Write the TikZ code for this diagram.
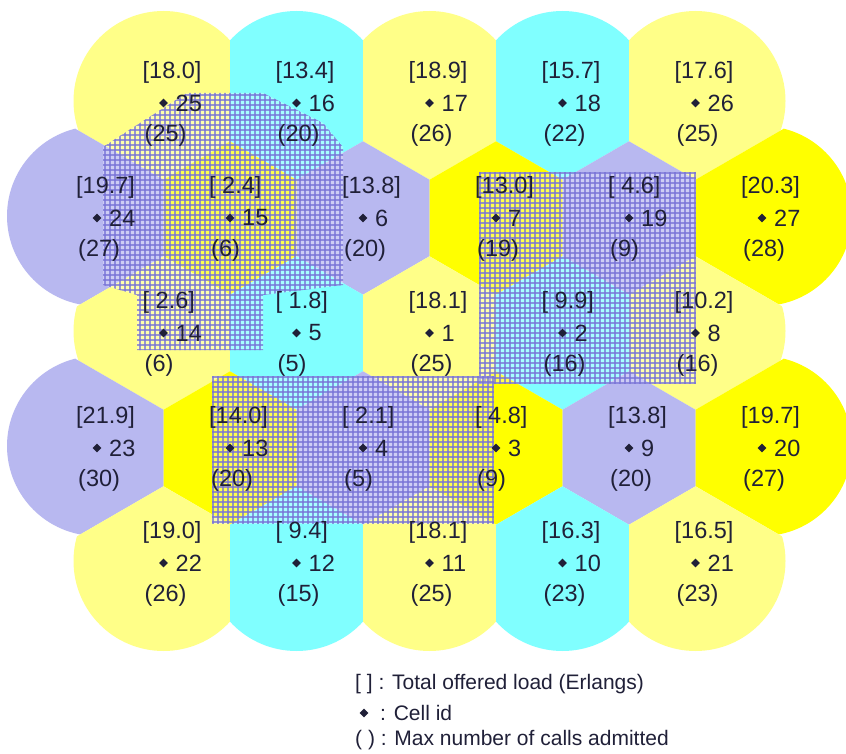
\documentclass[tikz,border=0pt]{standalone}
\usepackage{fontspec}
\setmainfont{Liberation Sans}
\usetikzlibrary{calc,shapes.geometric}
\definecolor{ly}{HTML}{FFFF88}
\definecolor{cy}{HTML}{80FFFF}
\definecolor{lv}{HTML}{B8B8F0}
\definecolor{by}{HTML}{FFFF00}
\definecolor{ink}{HTML}{202038}
\definecolor{hatchc}{RGB}{120,115,215}
\def\celllist{25/163.5/103/ly/18.0/25, 16/296.5/103/cy/13.4/20, 17/429.5/103/ly/18.9/26, 18/562.5/103/cy/15.7/22, 26/695.5/103/ly/17.6/25,
24/97/218/lv/19.7/27, 15/230/218/by/~2.4/6, 6/363/218/lv/13.8/20, 7/496/218/by/13.0/19, 19/629/218/lv/~4.6/9, 27/762/218/by/20.3/28,
14/163.5/333/ly/~2.6/6, 5/296.5/333/cy/~1.8/5, 1/429.5/333/ly/18.1/25, 2/562.5/333/cy/~9.9/16, 8/695.5/333/ly/10.2/16,
23/97/448/lv/21.9/30, 13/230/448/by/14.0/20, 4/363/448/lv/~2.1/5, 3/496/448/by/~4.8/9, 9/629/448/lv/13.8/20, 20/762/448/by/19.7/27,
22/163.5/563/ly/19.0/26, 12/296.5/563/cy/~9.4/15, 11/429.5/563/ly/18.1/25, 10/562.5/563/cy/16.3/23, 21/695.5/563/ly/16.5/23}
\tikzset{
  lbl/.style={font=\fontsize{23.5}{23.5}\selectfont, text=ink, inner sep=0pt, anchor=west},
  leg/.style={font=\fontsize{21}{21}\selectfont, text=ink, inner sep=0pt, anchor=west},
  dmd/.style={diamond, fill=ink, draw=none, inner sep=0pt, minimum size=9pt},
  hatch/.style={draw=hatchc, line width=1.15pt, opacity=0.75},
  whiten/.style={fill=white, fill opacity=0.3}
}
\begin{document}
\begin{tikzpicture}[x=1pt, y=-1pt]
\useasboundingbox (0,0) rectangle (846,754);
\clip (0,0) rectangle (846,754);
\fill[white] (0,0) rectangle (846,754);
% cells: coverage discs split at the bisectors with their neighbours
\foreach \n/\x/\y/\c/\ld/\mx in \celllist {
  \begin{scope}
    \foreach \m/\xx/\yy/\cc/\la/\lb in \celllist {
      \pgfmathsetmacro\dd{veclen(\xx-\x,\yy-\y)}
      \ifdim\dd pt<140pt\relax \ifdim\dd pt>1pt\relax
        \coordinate (mid) at ($(\x,\y)!0.5!(\xx,\yy)$);
        \clip ($(mid)!300pt!90:(\xx,\yy)$) -- ($(mid)!300pt!180:(\xx,\yy)$) -- ($(mid)!300pt!-90:(\xx,\yy)$) -- cycle;
      \fi\fi
    }
    \fill[\c] (\x,\y-2) circle (90pt);
  \end{scope}
}
% hatched region 1
\begin{scope}
  \clip (187,93) -- (263,93) -- (323,123) -- (343,147) -- (343,285) -- (263,295) -- (263,350) -- (137,350) -- (137,295) -- (103,285) -- (103,147) -- (140,123) -- cycle;
  \fill[whiten] (100,90) rectangle (350,355);
  \foreach \i in {0,...,50} \draw[hatch] (100+5*\i,90) -- (100+5*\i,355);
  \foreach \i in {0,...,53} \draw[hatch] (100,90+5*\i) -- (350,90+5*\i);
\end{scope}
% hatched region 2
\begin{scope}
  \clip (479,172) rectangle (696,384);
  \fill[whiten] (479,172) rectangle (696,384);
  \foreach \i in {0,...,43} \draw[hatch] (480+5*\i,172) -- (480+5*\i,384);
  \foreach \i in {0,...,42} \draw[hatch] (479,173+5*\i) -- (696,173+5*\i);
\end{scope}
% hatched region 3
\begin{scope}
  \clip (212,376) rectangle (494,524);
  \fill[whiten] (212,376) rectangle (494,524);
  \foreach \i in {0,...,56} \draw[hatch] (213+5*\i,376) -- (213+5*\i,524);
  \foreach \i in {0,...,29} \draw[hatch] (212,377+5*\i) -- (494,377+5*\i);
\end{scope}
% labels
\foreach \n/\x/\y/\c/\ld/\mx in \celllist {
  \node[lbl] (L\n) at (\x-21,\y-31) {[\ld]};
  \node[dmd] (D\n) at (\x,\y) {};
  \node[lbl] (I\n) at (\x+12,\y) {\n};
  \node[lbl] (X\n) at (\x-19,\y+32) {(\mx)};
}
% legend
\node[leg] (LG1) at (355,684) {[ ] : Total offered load (Erlangs)};
\node[dmd] (LGD) at (364,713) {};
\node[leg] (LG2) at (380,713) {: Cell id};
\node[leg] (LG3) at (355,740) {( ) : Max number of calls admitted};
\end{tikzpicture}
\end{document}
